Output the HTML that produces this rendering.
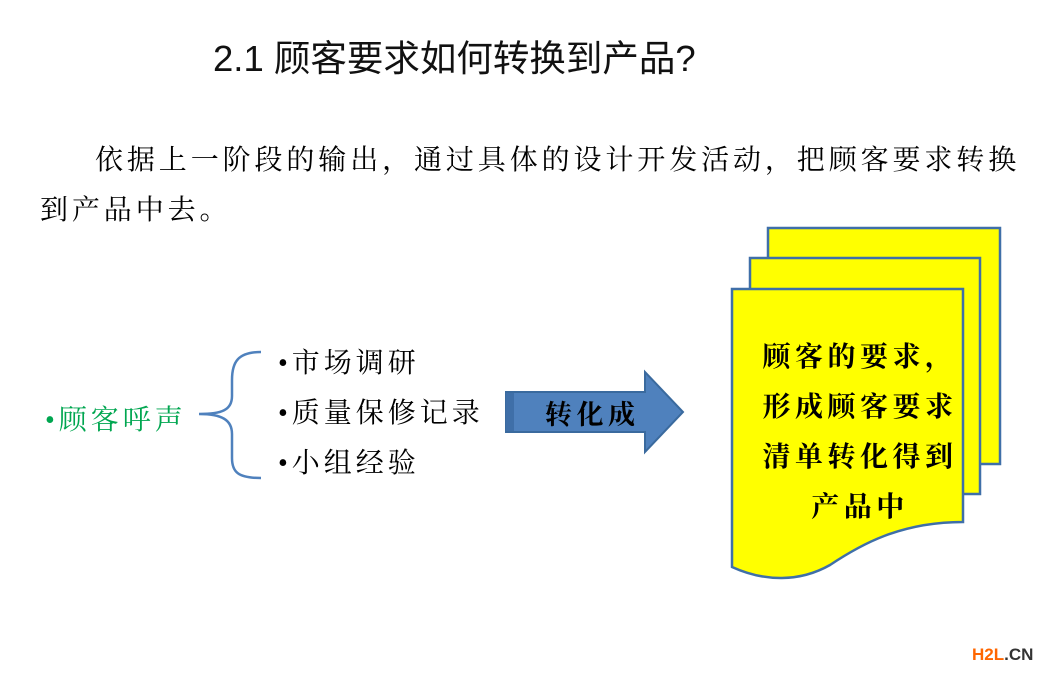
<!DOCTYPE html>
<html><head><meta charset="utf-8"><style>
html,body{margin:0;padding:0;background:#fff;}
body{width:1058px;height:680px;position:relative;overflow:hidden;font-family:"Liberation Serif","Noto Serif CJK SC",serif;}
.t{position:absolute;white-space:nowrap;}
</style></head><body>
<div class="t" style="left:213px;top:29px;font-family:'Liberation Sans','Noto Sans CJK SC',sans-serif;font-size:36.5px;color:#111;">2.1 顾客要求如何转换到产品?</div>
<div class="t" style="left:95px;top:138px;font-size:28px;letter-spacing:3.9px;color:#000;">依据上一阶段的输出，通过具体的设计开发活动，把顾客要求转换</div>
<div class="t" style="left:40px;top:188px;font-size:28px;letter-spacing:3.9px;color:#000;">到产品中去。</div>
<svg width="1058" height="680" style="position:absolute;left:0;top:0">
<path d="M261 352 C238 352 232 362 232 380 L232 396 C232 410 222 414 199 414 C222 414 232 420 232 434 L232 458 C232 472 238 478 261 478" fill="none" stroke="#4f81bd" stroke-width="2.5"/>
<path d="M506 392 L645 392 L645 372 L683 412 L645 452 L645 432 L506 432 Z" fill="#4f81bd" stroke="#3a6a9e" stroke-width="2"/>
<rect x="506" y="393" width="8" height="38" fill="#3f6fa8"/>
<rect x="768" y="228" width="232" height="236" fill="#ffff00" stroke="#3f6fa8" stroke-width="2.5"/>
<rect x="750" y="258" width="230" height="236" fill="#ffff00" stroke="#3f6fa8" stroke-width="2.5"/>
<path d="M732 289 L963 289 L963 522 C900 522 860 545 830 565 C800 582 765 582 732 567 Z" fill="#ffff00" stroke="#3f6fa8" stroke-width="2.5"/>
</svg>
<div class="t" style="left:45px;top:398px;font-size:28px;letter-spacing:4px;color:#00a650;">•顾客呼声</div>
<div class="t" style="left:278px;top:341px;font-size:28px;letter-spacing:4px;">•市场调研</div>
<div class="t" style="left:278px;top:391px;font-size:28px;letter-spacing:4px;">•质量保修记录</div>
<div class="t" style="left:278px;top:441px;font-size:28px;letter-spacing:4px;">•小组经验</div>
<div class="t" style="left:545px;top:393px;font-size:27px;letter-spacing:4.5px;font-weight:bold;">转化成</div>
<div class="t" style="left:745px;top:333px;width:230px;text-align:center;font-size:28px;line-height:50px;font-weight:bold;letter-spacing:4.5px;">顾客的要求，<br>形成顾客要求<br>清单转化得到<br>产品中</div>
<div class="t" style="left:972px;top:645px;font-family:'Liberation Sans',sans-serif;font-weight:bold;font-size:17px;"><span style="color:#ff6600">H2L</span><span style="color:#333">.CN</span></div>
</body></html>
